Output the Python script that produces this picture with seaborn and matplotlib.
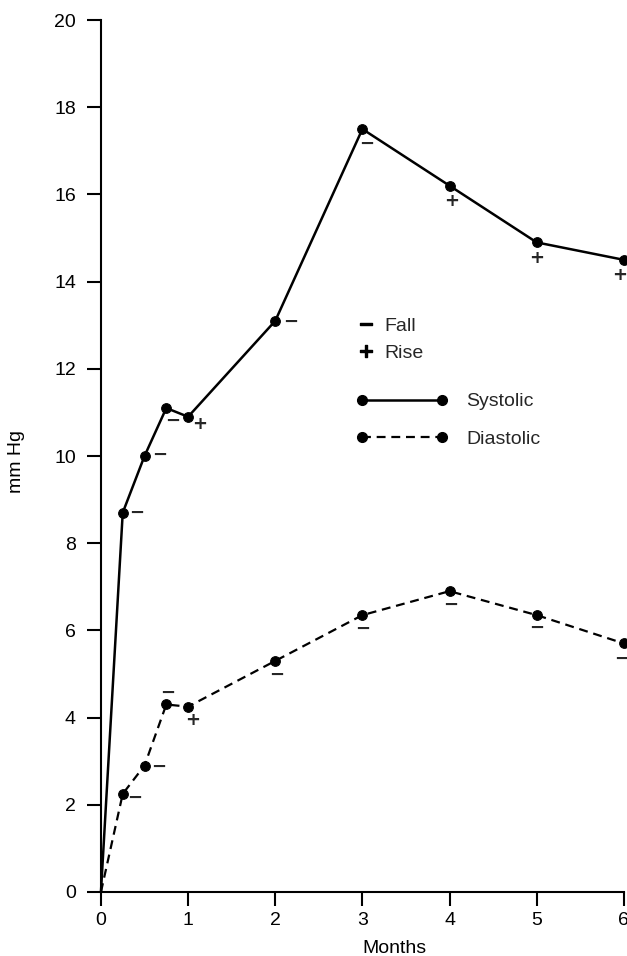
import matplotlib
matplotlib.use("Agg")
import matplotlib.pyplot as plt
import seaborn as sns
from matplotlib.lines import Line2D

# Values
months = [0, 0.25, 0.5, 0.75, 1, 2, 3, 4, 5, 6]
systolic = [0, 8.7, 10.0, 11.1, 10.9, 13.1, 17.5, 16.2, 14.9, 14.5]
diastolic = [0, 2.25, 2.9, 4.3, 4.25, 5.3, 6.35, 6.9, 6.35, 5.7]
systolic_signs = ['', '−', '−', '−', '+', '−', '−', '+', '+', '+']
diastolic_signs = ['', '−', '−', '−', '+', '−', '−', '−', '−', '−']

# where each sign sits relative to its point (pixels, right / down)
systolic_offsets = [(0, 0), (14, 0), (15, -1), (6, 13), (12, 7), (15, 1), (4, 15), (2, 15), (0, 16), (-4, 15)]
diastolic_offsets = [(0, 0), (12, 4), (14, 1), (1, -12), (5, 13), (1, 14), (0, 14), (1, 14), (0, 13), (-2, 15)]

sns.set_theme(style="ticks")
plt.rcParams['font.family'] = ['Liberation Sans', 'DejaVu Sans']

fig = plt.figure(figsize=(6.27, 9.56), dpi=100)
ax = fig.add_axes([0.161, 0.067, 0.834, 0.912])

marks = list(range(1, len(months)))
sns.lineplot(x=months, y=systolic, ax=ax, color='black', lw=1.8, marker='o', markersize=7,
             markeredgecolor='black', markevery=marks, clip_on=False)
sns.lineplot(x=months, y=diastolic, ax=ax, color='black', lw=1.6, linestyle=(0, (4, 2.6)),
             marker='o', markersize=7, markeredgecolor='black', markevery=marks, clip_on=False)

for signs, offs, vals in [(systolic_signs, systolic_offsets, systolic),
                          (diastolic_signs, diastolic_offsets, diastolic)]:
    for x, y, s, (dx, dy) in zip(months, vals, signs, offs):
        if s:
            ax.annotate(s, (x, y), xytext=(dx, -dy), textcoords='offset pixels',
                        ha='center', va='center', fontsize=13, fontweight='bold',
                        family=['DejaVu Sans'], annotation_clip=False)

ax.set_xlim(0, 6)
ax.set_ylim(0, 20)
ax.set_xticks(range(0, 7))
ax.set_yticks(range(0, 21, 2))
ax.tick_params(axis='both', direction='out', length=10, width=1.5, labelsize=14, colors='black')
ax.tick_params(axis='x', pad=4.5)
ax.tick_params(axis='y', pad=8)
for side in ['left', 'bottom']:
    ax.spines[side].set_linewidth(1.5)
    ax.spines[side].set_color('black')
sns.despine(ax=ax)

ax.set_xlabel('Months', fontsize=14, color='black')
ax.xaxis.set_label_coords(0.562, -0.055)
ax.set_ylabel('mm Hg', fontsize=14, color='black')
ax.yaxis.set_label_coords(-0.145, 0.494)

# legend for the signs
sign_handles = [Line2D([], [], ls='none', marker='$−$', color='black', markersize=8),
                Line2D([], [], ls='none', marker='$+$', color='black', markersize=8)]
leg1 = ax.legend(sign_handles, ['Fall', 'Rise'], loc='upper left', bbox_to_anchor=(0.495, 0.6594),
                 frameon=False, fontsize=14, handlelength=0.6, handletextpad=0.64,
                 labelspacing=0.5, borderpad=0, borderaxespad=0, numpoints=1)
ax.add_artist(leg1)

line_handles = [Line2D([], [], color='black', lw=1.8, marker='o', markersize=7),
                Line2D([], [], color='black', lw=1.6, linestyle=(0, (4, 2.6)), marker='o', markersize=7)]
ax.legend(line_handles, ['Systolic', 'Diastolic'], loc='upper left', bbox_to_anchor=(0.489, 0.5724),
          frameon=False, fontsize=14, handlelength=4.7, handletextpad=0.95,
          labelspacing=1.0, borderpad=0, borderaxespad=0, numpoints=2)

fig.savefig('out.png', dpi=100)
